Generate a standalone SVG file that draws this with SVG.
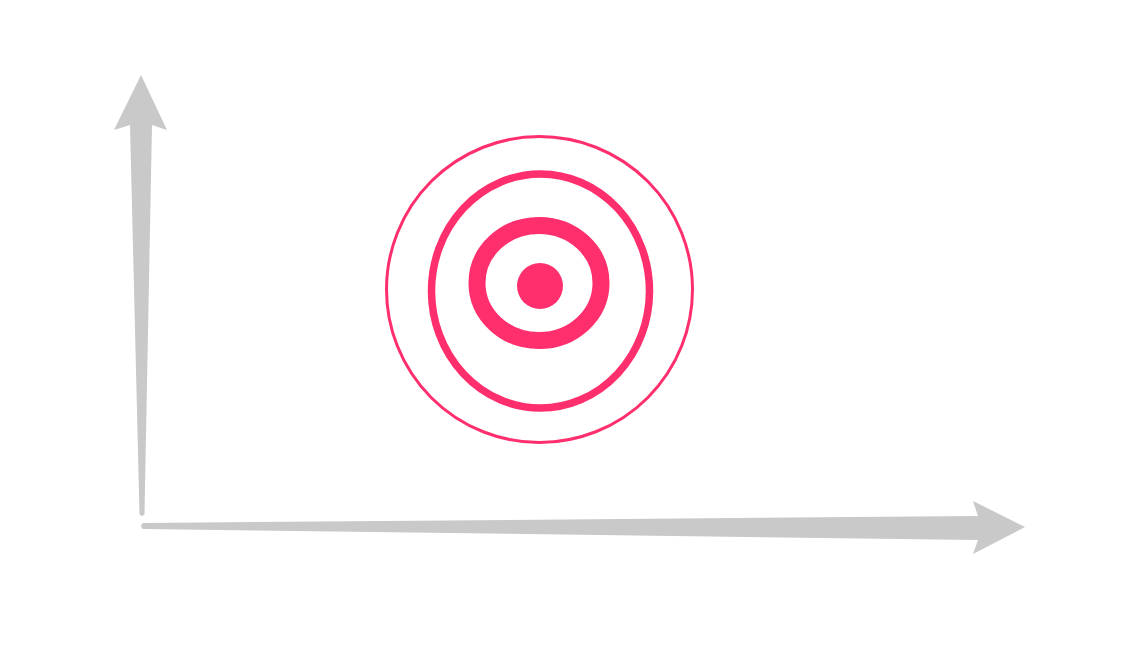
<svg xmlns="http://www.w3.org/2000/svg" width="1134" height="663" viewBox="0 0 1134 663">
<style>
.axis{fill:#c9c9c9}
.ring{fill:none;stroke:#ff2f6d}
.dot{fill:#ff2f6d}
</style>
<rect width="1134" height="663" fill="#ffffff"/>
<g id="connectors">
<path id="y-axis" class="axis" d="M141,75 L167,130 L152,125 L144.5,514 Q142,518 139.5,514 L130,125 L114,130 Z"/>
<path id="x-axis" class="axis" d="M143,523 L978,516 L973,501 L1025,527 L973,554 L978,540 L143,529 Q139,526 143,523 Z"/>
</g>
<g id="target">
<circle class="ring" cx="539.5" cy="289.5" r="153" stroke-width="3"/>
<ellipse class="ring" cx="540.5" cy="291" rx="109" ry="117" stroke-width="7.5"/>
<ellipse class="ring" cx="539" cy="283" rx="62" ry="57.5" stroke-width="17"/>
<circle class="dot" cx="540" cy="286" r="23"/>
</g>
</svg>
